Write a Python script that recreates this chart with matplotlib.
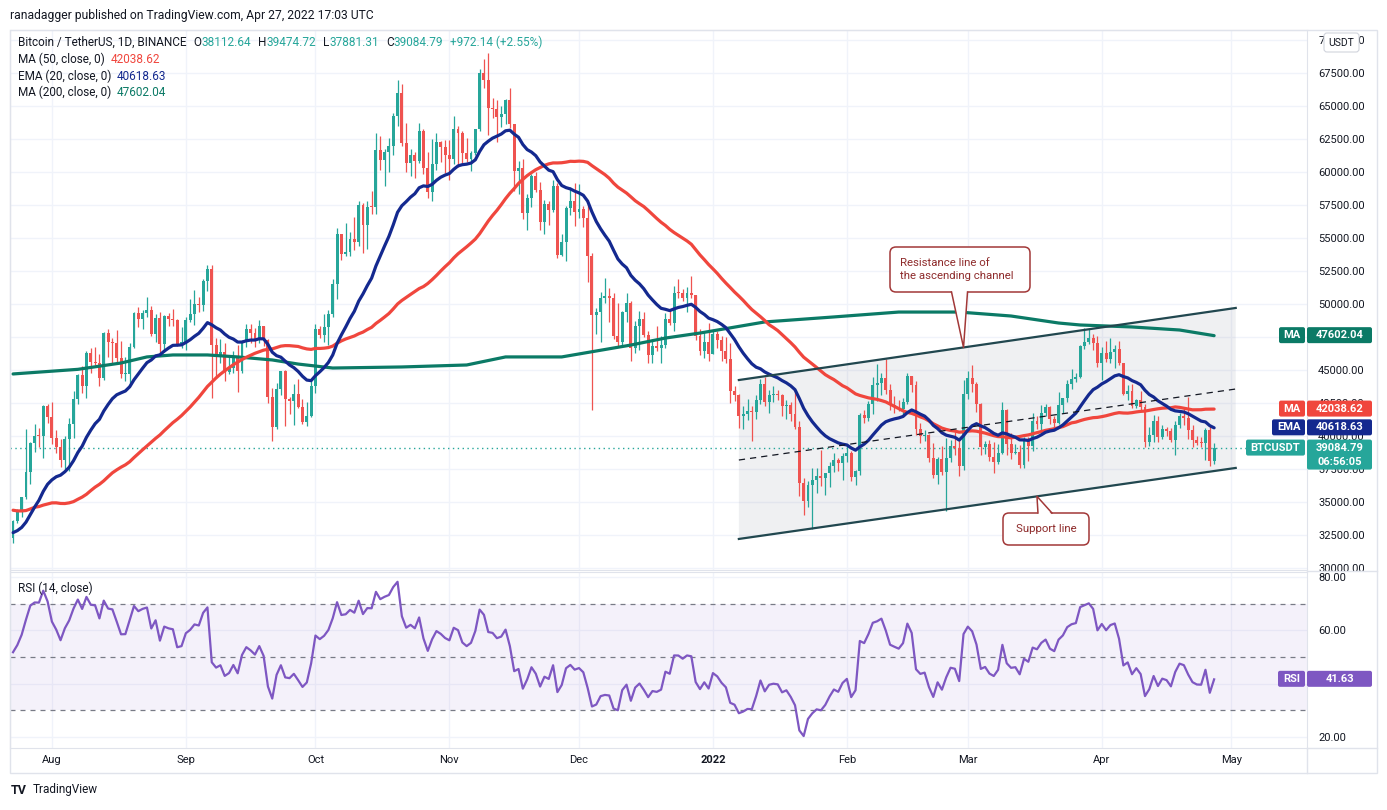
import numpy as np
import pandas as pd
import matplotlib
matplotlib.use('Agg')
import matplotlib.pyplot as plt
import matplotlib.transforms as mtransforms
from matplotlib.patches import Rectangle, FancyBboxPatch, Polygon
from matplotlib.lines import Line2D
from matplotlib.ticker import FuncFormatter

plt.rcParams['font.family'] = ['Roboto', 'DejaVu Sans']

# BTCUSDT daily candles (Binance), 2021-07-23 .. 2022-04-27
dates = pd.date_range('2021-07-23', '2022-04-27', freq='D')
open_first = 32290

close = [
    # Jul
    33580, 34290, 35380, 37270, 39460, 40020, 40010, 42240, 41460,
    # Aug
    39850, 39150, 38190, 39740, 40880, 42840, 44610, 43810, 46290, 45600, 45550, 44430, 47830, 47100, 47020, 45920,
    44690, 44710, 46760, 49340, 48870, 49290, 49530, 47710, 48960, 46940, 49080, 48900, 48810, 46990, 47130,
    # Sep
    48800, 49270, 50030, 49940, 51770, 52660, 46860, 46080, 46370, 44840, 45160, 46060, 44960, 47110, 48140,
    47770, 47300, 48310, 47260, 42990, 40700, 43570, 44900, 42810, 42670, 43210, 42170, 41030, 41520, 43790,
    # Oct
    48140, 47660, 48230, 49250, 51490, 55340, 53800, 53970, 54960, 54660, 57470, 56000, 57370, 57350, 61670, 60880,
    61530, 62000, 64280, 66000, 62200, 60690, 61290, 60860, 63080, 60330, 58450, 60590, 62250, 61860, 61300,
    # Nov
    61000, 63230, 62940, 61430, 60970, 61450, 63270, 67530, 66940, 64880, 64770, 64140, 64390, 65470, 63600,
    60060, 60340, 56890, 58050, 59710, 58620, 56250, 57540, 57140, 58960, 53730, 54720, 57270, 57800, 56950,
    # Dec
    57180, 56480, 53600, 49150, 49400, 50440, 50590, 50470, 47550, 47140, 49390, 50050, 46700, 48340, 48860, 47630,
    46130, 46830, 46680, 46910, 48890, 48590, 50820, 50810, 50430, 50800, 50710, 47540, 46470, 47120, 46220,
    # Jan
    47720, 47290, 46440, 45830, 43430, 43100, 41550, 41680, 41870, 41830, 42740, 43920, 42590, 43100, 43180, 43110,
    42250, 42380, 41680, 40700, 36460, 35070, 36270, 36680, 36960, 36810, 37160, 37710, 38170, 37920, 38480,
    # Feb
    38740, 36900, 37330, 41570, 41380, 42410, 43840, 44040, 44380, 43510, 42370, 42200, 42050, 42540,
    44540, 43870, 40510, 39970, 40080, 38370, 37010, 38230, 37250, 38330, 39220, 39110, 37700, 43190,
    # Mar
    44420, 43920, 42450, 39150, 39400, 38420, 38060, 38740, 41940, 39420, 38730, 38810, 37790, 39670, 39280, 41120,
    40920, 41760, 42200, 41260, 41000, 42360, 42890, 43960, 44350, 44500, 46820, 47130, 47430, 47060, 45510,
    # Apr
    46280, 45810, 46400, 46580, 45500, 43170, 43440, 42250, 42750, 42160, 39530, 40070, 41150, 39940,
    40550, 40380, 39680, 40800, 41500, 41360, 40480, 39710, 39470, 39450, 40430, 38112.64, 39084.79,
]

high = [
    33650, 34500, 35400, 40550, 39540, 40900, 40640, 42320, 42410,
    42600, 40450, 39780, 39970, 41350, 43390, 44700, 45310, 46450, 46700, 46780, 46220, 47890, 48140, 47400, 48050,
    47170, 46000, 47060, 49380, 49760, 49520, 50500, 49880, 49240, 49380, 49180, 49310, 49630, 48900, 48250,
    49000, 50350, 51050, 50560, 51900, 52920, 52950, 47400, 47350, 47030, 45990, 46460, 46880, 47250, 48450,
    48490, 48170, 48800, 48370, 47330, 43620, 44000, 44950, 45000, 42970, 43930, 44350, 42790, 42600, 44130,
    48500, 48360, 49230, 49530, 51890, 55750, 55340, 56100, 55490, 56560, 57840, 57680, 57800, 58530, 62930, 62700,
    61720, 62600, 64490, 67000, 66640, 63730, 61750, 61490, 63710, 63290, 61500, 62500, 62980, 62360, 62400,
    62440, 64270, 63520, 63080, 62600, 61560, 63280, 67790, 68530, 69000, 65580, 65450, 64970, 65500, 66400,
    63620, 60800, 60950, 58340, 59850, 60000, 59260, 57880, 57830, 59400, 59170, 55280, 57450, 58880, 59180,
    59060, 57390, 57600, 53870, 49700, 50900, 51940, 51200, 50800, 50100, 49480, 50800, 50200, 48700, 49500, 49430,
    47990, 47360, 48300, 47540, 49330, 49580, 51380, 51860, 51150, 51280, 52090, 50700, 48140, 47900, 48550,
    47950, 47990, 47570, 47500, 47070, 43750, 43150, 42300, 42790, 42250, 43100, 44350, 44450, 43450, 43800, 43480,
    43200, 42690, 42590, 43500, 41100, 36840, 36580, 37550, 37550, 38920, 37230, 38000, 38720, 38360, 38740,
    39270, 38850, 37390, 41770, 41950, 42650, 44500, 45490, 44800, 45820, 43930, 43000, 42760, 42880,
    44760, 44580, 44170, 40950, 40450, 40130, 39490, 38430, 39250, 39840, 39700, 40300, 39880, 44230,
    44950, 45400, 44100, 42530, 39640, 39680, 39550, 39430, 42590, 42040, 40260, 39360, 39300, 39950, 39890, 41720,
    41480, 42330, 42400, 42300, 41540, 43360, 42900, 44220, 45090, 44810, 46930, 48190, 48100, 47700, 47600,
    46720, 47210, 47440, 46890, 47200, 45500, 43900, 43970, 42800, 43410, 42420, 40700, 41560, 41500,
    40850, 40710, 40600, 41100, 41760, 42200, 42980, 40800, 39980, 39900, 40620, 40800, 39474.72,
]

low = [
    31900, 33400, 33880, 35250, 36400, 38800, 39200, 38320, 41000,
    39420, 38690, 37640, 37510, 37330, 39850, 42450, 43260, 42850, 44800, 45350, 43770, 44260, 45970, 45500, 45600,
    44380, 44200, 43950, 46640, 48280, 48100, 49030, 47600, 47150, 46320, 46360, 48370, 48300, 46850, 46700,
    46510, 48650, 48400, 49400, 49500, 50970, 42850, 44410, 45510, 44130, 44720, 44760, 43370, 44760, 46750,
    47050, 46750, 47050, 46850, 42500, 39600, 40560, 43090, 40750, 41650, 40800, 42100, 40900, 40750, 41410,
    43280, 47440, 47100, 46880, 49000, 50380, 53360, 53600, 53660, 54100, 54420, 53880, 54170, 56820, 56850, 60150,
    58960, 60000, 61320, 63480, 62000, 60000, 59670, 59520, 60650, 59820, 58000, 57820, 60170, 60720, 59950,
    59400, 60620, 60380, 60680, 60720, 60060, 61320, 63090, 66380, 62820, 64100, 62300, 63400, 63630, 63360,
    58570, 58370, 56470, 55600, 57350, 58460, 55610, 55290, 55960, 57000, 53500, 53610, 53250, 56730, 55880,
    56480, 55840, 51680, 42000, 47730, 47100, 50040, 48600, 47320, 46850, 46750, 48640, 45670, 46300, 46550, 47510,
    45500, 45500, 46410, 45560, 46630, 48420, 47920, 50450, 50190, 49420, 50450, 47310, 46100, 45900, 45680,
    46220, 46650, 45700, 45500, 42500, 42650, 40610, 40500, 41200, 39650, 41270, 42450, 42310, 41720, 42600, 42700,
    41540, 41250, 41140, 40550, 35450, 34010, 34600, 32950, 35700, 36200, 35500, 36150, 37300, 37350, 36630,
    38020, 36580, 36250, 37020, 40980, 41120, 41650, 42670, 43120, 43190, 42000, 41750, 41870, 41570,
    42430, 43310, 40070, 39450, 39640, 38000, 36800, 36350, 37040, 34320, 38010, 38560, 37000, 37450,
    42820, 43330, 41830, 38550, 38600, 38090, 37160, 37880, 38650, 38540, 38220, 38660, 37580, 37580, 38100, 38830,
    40500, 40130, 41540, 40910, 40500, 40880, 41750, 42560, 43580, 44070, 44420, 46620, 46950, 46540, 45200,
    44210, 45630, 45520, 45120, 45350, 43120, 42730, 42110, 42130, 41870, 39200, 39250, 39550, 39550,
    39770, 40000, 39550, 38540, 40570, 40820, 39750, 39180, 39300, 39180, 38200, 37700, 37881.31,
]

# daily closes 2021-06-03 .. 2021-07-22 (before the first candle), used to start MA50 / EMA20 / RSI
close_before = [
    39200, 36900, 35500, 35800, 33600, 33400, 37400, 36700, 37300, 35600, 39000, 40500, 40100, 38300,
    38100, 35800, 35500, 35600, 31600, 32500, 33700, 34700, 31600, 32200, 34700, 34500, 35900, 35000,
    33500, 33800, 34700, 35300, 33700, 34200, 33900, 32900, 33800, 33500, 34300, 33100, 32700, 32800,
    31900, 31400, 31500, 31800, 30800, 29800, 32100, 32290,
]

# MA 200
ma200_dates = ['2021-07-23', '2021-08-07', '2021-08-17', '2021-08-23', '2021-08-29', '2021-09-06', '2021-09-13',
               '2021-09-21', '2021-09-27', '2021-10-05', '2021-10-21', '2021-11-05', '2021-11-14', '2021-11-27',
               '2021-12-13', '2021-12-21', '2021-12-29', '2022-01-13', '2022-01-29', '2022-02-13', '2022-02-27',
               '2022-03-11', '2022-03-22', '2022-03-27', '2022-04-08', '2022-04-19', '2022-04-27']
ma200_vals = [44700, 45050, 45530, 45990, 46140, 46140, 45990, 45760, 45450, 45150, 45230, 45380, 45990, 45990,
              46890, 47420, 47800, 48640, 49020, 49390, 49390, 49090, 48560, 48410, 48260, 48030, 47602]

# values shown in the legend / price scale
last_ohlc = ['38112.64', '39474.72', '37881.31', '39084.79']
last_change = '+972.14 (+2.55%)'
ma50_last, ema20_last, ma200_last, rsi_last = 42038.62, 40618.63, 47602.04, 41.63
countdown = '06:56:05'

# ascending channel drawing (date, price)
resist_line = [('2022-01-07', 44240), ('2022-05-02', 49700)]
support_line = [('2022-01-07', 32200), ('2022-05-02', 37580)]
middle_line = [('2022-01-07', 38180), ('2022-05-02', 43560)]

month_starts = ['2021-08-01', '2021-09-01', '2021-10-01', '2021-11-01', '2021-12-01', '2022-01-01',
                '2022-02-01', '2022-03-01', '2022-04-01', '2022-05-01']
month_labels = ['Aug', 'Sep', 'Oct', 'Nov', 'Dec', '2022', 'Feb', 'Mar', 'Apr', 'May']

# scale labels that sit completely under a value tag in the original
hidden_price_ticks = [47500]
hidden_rsi_ticks = [40]

assert len(close) == len(dates) == len(high) == len(low)


def didx(s):
    return (pd.Timestamp(s) - dates[0]).days


# indicators
c = np.array(close, dtype=float)
allc = np.array(close_before + close, dtype=float)
n_vis = len(c)
ma50 = pd.Series(allc).rolling(50).mean().values[-n_vis:]
ema = np.empty(len(allc))
ema[0] = allc[0]
k = 2 / 21
for i in range(1, len(allc)):
    ema[i] = k * allc[i] + (1 - k) * ema[i - 1]
ema20 = ema[-n_vis:]
dlt = np.diff(allc)
gain = np.clip(dlt, 0, None)
loss = np.clip(-dlt, 0, None)
ag = np.full(len(dlt), np.nan)
al = np.full(len(dlt), np.nan)
ag[13] = gain[:14].mean()
al[13] = loss[:14].mean()
for i in range(14, len(dlt)):
    ag[i] = (ag[i - 1] * 13 + gain[i]) / 14
    al[i] = (al[i - 1] * 13 + loss[i]) / 14
rsi = (100 - 100 / (1 + ag / al))[-n_vis:]

x = np.arange(n_vis)
o = np.r_[open_first, c[:-1]]
h = np.array(high, dtype=float)
l = np.array(low, dtype=float)
UP, DOWN = '#26a69a', '#ef5350'
cols = np.where(c >= o, UP, DOWN)

W, H = 1387, 810
fig = plt.figure(figsize=(W / 100, H / 100), dpi=100)
fig.patch.set_facecolor('white')
pix = mtransforms.Affine2D().scale(1, -1).translate(0, H)

ax = fig.add_axes([10 / W, 1 - 570 / H, 1297 / W, 540 / H])
ax2 = fig.add_axes([10 / W, 1 - 748 / H, 1297 / W, 176 / H], sharex=ax)

ax.set_xlim(-0.7, 299.5)
ax.set_ylim(29848, 70758)
ax2.set_ylim(15.88, 81.87)

GRID = '#f0f3fa'
BORDER = '#e0e3eb'
TXT = '#131722'
mx = [didx(m) for m in month_starts]
for a, hidden in ((ax, hidden_price_ticks), (ax2, hidden_rsi_ticks)):
    a.set_xticks(mx)
    a.grid(True, color=GRID, lw=1)
    a.set_axisbelow(True)
    for sp in a.spines.values():
        sp.set_color(BORDER)
    a.yaxis.tick_right()
    a.tick_params(axis='y', length=0, pad=8, labelsize=8, labelcolor=TXT)
    a.yaxis.set_major_formatter(FuncFormatter(
        lambda v, _, hid=hidden: '' if any(abs(v - q) < 1e-6 for q in hid) else f'{v:.2f}'))

ax.set_yticks(np.arange(30000, 70001, 2500))
ax.tick_params(axis='x', length=0, labelbottom=False)
ax2.set_yticks([20, 40, 60, 80])
ax2.set_xticklabels(month_labels)
ax2.tick_params(axis='x', length=0, pad=5, labelsize=8, labelcolor=TXT)
for t in ax2.get_xticklabels():
    if t.get_text() == '2022':
        t.set_fontweight('bold')

# channel
r_x = [didx(p[0]) for p in resist_line]
r_y = [p[1] for p in resist_line]
s_x = [didx(p[0]) for p in support_line]
s_y = [p[1] for p in support_line]
m_x = [didx(p[0]) for p in middle_line]
m_y = [p[1] for p in middle_line]
ax.add_patch(Polygon([(s_x[0], s_y[0]), (s_x[1], s_y[1]), (r_x[1], r_y[1]), (r_x[0], r_y[0])],
                     closed=True, facecolor='#7f8596', alpha=0.12, lw=0, zorder=0.6))

# candles
ax.vlines(x, l, h, colors=cols, lw=0.9, zorder=2)
body_bottom = np.minimum(o, c)
body_h = np.maximum(np.abs(c - o), 70)
ax.bar(x, body_h, bottom=body_bottom, width=0.68, color=cols, lw=0, zorder=2.1)

# moving averages
ax.plot([didx(d) for d in ma200_dates], ma200_vals, color='#0b7a66', lw=2.3, zorder=3, solid_capstyle='round')
ax.plot(x, ma50, color='#f0463d', lw=2.3, zorder=3.1, solid_capstyle='round')
ax.plot(x, ema20, color='#14298f', lw=2.3, zorder=3.2, solid_capstyle='round')

ax.plot(r_x, r_y, color='#21474f', lw=1.6, zorder=4)
ax.plot(s_x, s_y, color='#21474f', lw=1.6, zorder=4)
ax.plot(m_x, m_y, color='#131722', lw=0.9, ls=(0, (5, 4)), zorder=4)

ax.axhline(c[-1], color=UP, lw=1, ls=(0, (1, 2.5)), zorder=1.5)

# RSI pane
ax2.axhspan(30, 70, color='#7e57c2', alpha=0.08, lw=0)
for lv in (70, 50, 30):
    ax2.axhline(lv, color='#787b86', lw=0.9, ls=(0, (4, 4)))
ax2.plot(x, rsi, color='#7e57c2', lw=1.6)


def to_px(a, xd, yd):
    X, Y = a.transData.transform((xd, yd))
    return X, H - Y


def ftext(xp, yp, s, **kw):
    kw.setdefault('fontsize', 8)
    kw.setdefault('color', TXT)
    kw.setdefault('va', 'center')
    kw.setdefault('ha', 'left')
    return fig.text(xp, yp, s, transform=pix, **kw)


def text_row(xp, yp, parts, size=8.5):
    t = ftext(xp, yp, parts[0][0], color=parts[0][1], fontsize=size, va='baseline')
    for s, col, gap in parts[1:]:
        t = ax.annotate(s, xy=(1, 0), xycoords=t, xytext=(gap, 0), textcoords='offset points',
                        va='bottom', ha='left', fontsize=size, color=col, annotation_clip=False)
    return t


def box(x0, y0, x1, y1, color, r=2, ec=None, lw=0):
    p = FancyBboxPatch((x0, y0), x1 - x0, y1 - y0, boxstyle=f'round,pad=0,rounding_size={r}',
                       facecolor=color, edgecolor=ec if ec else color, lw=lw, transform=pix, zorder=5)
    fig.add_artist(p)
    return p


# header + legends
ftext(10, 15, 'ranadagger published on TradingView.com, Apr 27, 2022 17:03 UTC', fontsize=8.7)
text_row(18, 46, [('Bitcoin / TetherUS, 1D, BINANCE', TXT),
                  ('O', TXT, 5), (last_ohlc[0], UP, 0),
                  ('H', TXT, 5), (last_ohlc[1], UP, 0),
                  ('L', TXT, 5), (last_ohlc[2], UP, 0),
                  ('C', TXT, 5), (last_ohlc[3], UP, 0),
                  (last_change, UP, 5)])
text_row(18, 63, [('MA (50, close, 0)', TXT), (f'{ma50_last:.2f}', '#f0463d', 4)])
text_row(18, 80, [('EMA (20, close, 0)', TXT), (f'{ema20_last:.2f}', '#14298f', 4)])
text_row(18, 96, [('MA (200, close, 0)', TXT), (f'{ma200_last:.2f}', '#0b7a66', 4)])
text_row(18, 592, [('RSI (14, close)', TXT), (f'{rsi_last:.2f}', '#7e57c2', 5)])


# price scale tags
def tag(a, val, name, color, name_x0, lines):
    _, yc = to_px(a, 0, val)
    y0 = yc - 8.5
    box(name_x0, y0, 1305, y0 + 16, color)
    ftext((name_x0 + 1305) / 2, y0 + 8, name, color='white', ha='center', fontweight='bold', zorder=6)
    box(1307, y0, 1372, y0 + 16 * len(lines) - 2 * (len(lines) - 1), color)
    for j, s in enumerate(lines):
        ftext(1339.5, y0 + 8 + 14.5 * j, s, color='white', ha='center', fontweight='bold', zorder=6)


tag(ax, ma200_last, 'MA', '#0b7a66', 1279, [f'{ma200_last:.2f}'])
tag(ax, ma50_last, 'MA', '#f0463d', 1279, [f'{ma50_last:.2f}'])
tag(ax, ema20_last, 'EMA', '#14298f', 1272, [f'{ema20_last:.2f}'])
tag(ax, c[-1], 'BTCUSDT', UP, 1246, [f'{c[-1]:.2f}', countdown])
tag(ax2, rsi_last, 'RSI', '#7e57c2', 1278, [f'{rsi_last:.2f}'])

box(1324, 33, 1359, 52, 'white', r=3, ec='#d1d4dc', lw=0.8)
ftext(1341.5, 42.5, 'USDT', ha='center', fontsize=7.5, zorder=6)

# outer frame
fig.add_artist(Rectangle((10, 30), 1367, 743, fill=False, edgecolor=BORDER, lw=1, transform=pix, zorder=4))
for yy in (571, 748):
    fig.add_artist(Line2D([1307, 1377], [yy, yy], color=BORDER, lw=1, transform=pix, zorder=4))
fig.add_artist(Line2D([1307, 1307], [748, 773], color=BORDER, lw=1, transform=pix, zorder=4))

# callouts
RED_EDGE, RED_TXT = '#a23838', '#8e2b2b'


def callout(tip, bx, base_dx, base_y, lines, line_y, align='left', tx=None):
    x0, y0, x1, y1 = bx
    box(x0, y0, x1, y1, 'white', r=6, ec=RED_EDGE, lw=1.1)
    bx1, bx2 = tip[0] + base_dx[0], tip[0] + base_dx[1]
    inner = base_y + (-2 if base_y == y1 else 2)
    fig.add_artist(Polygon([(bx1, inner), tip, (bx2, inner)], closed=True, facecolor='white',
                           lw=0, transform=pix, zorder=5.5))
    fig.add_artist(Line2D([bx1, tip[0], bx2], [base_y, tip[1], base_y], color=RED_EDGE, lw=1.1,
                          transform=pix, zorder=5.6))
    for s, yy in zip(lines, line_y):
        ftext(tx, yy, s, color=RED_TXT, fontsize=8.2, ha=align, zorder=6)


tip_r = to_px(ax, didx('2022-02-28'), np.interp(didx('2022-02-28'), r_x, r_y))
callout(tip_r, (890, 247, 1030, 292), (-12, 4), 292, ['Resistance line of', 'the ascending channel'],
        [263, 276], tx=900)
tip_s = to_px(ax, didx('2022-03-17'), np.interp(didx('2022-03-17'), s_x, s_y))
callout(tip_s, (1003, 513, 1089, 545), (1, 15), 513, ['Support line'], [529], align='center', tx=1046)

# footer logo
ftext(11, 790, 'TV', fontsize=9, fontweight='bold', color='#131722')
ftext(33, 790, 'TradingView', fontsize=8.5, color='#131722')

fig.savefig('out.png', dpi=100, facecolor='white')
